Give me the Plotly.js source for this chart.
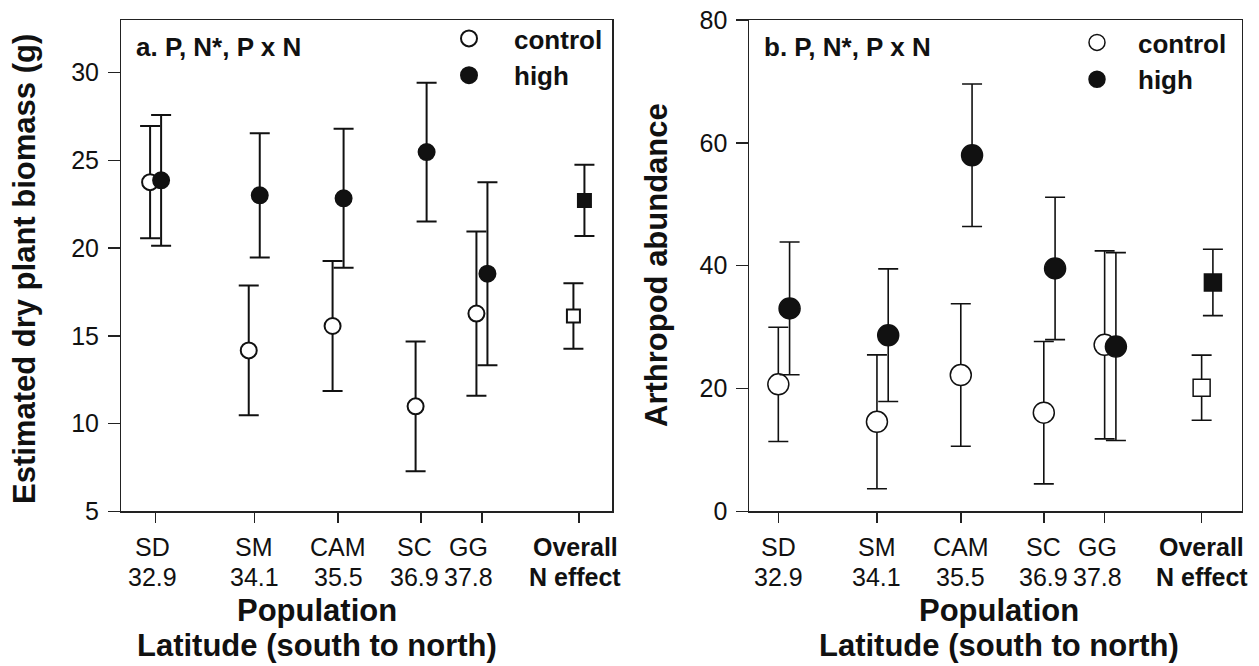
<!DOCTYPE html>
<html>
<head>
<meta charset="utf-8">
<script src="https://cdn.plot.ly/plotly-3.0.1.min.js"></script>
<style>
  html, body { margin: 0; padding: 0; background: #fff; }
  #chart { width: 1259px; height: 666px; }
</style>
</head>
<body>
<div id="chart"></div>
<script>
// ---- data ----
const populations = ['SD', 'SM', 'CAM', 'SC', 'GG'];
const latitudes = ['32.9', '34.1', '35.5', '36.9', '37.8'];
const overallLabel = ['Overall', 'N effect'];
// x positions of the groups along the latitude axis (SD..GG, then Overall)
const groupPos = [0, 1.2, 2.22, 3.23, 3.97, 5.15];

// panel a: estimated dry plant biomass (g)
const biomassControl = [23.76, 14.17, 15.56, 10.98, 16.27];
const biomassControlErr = [3.2, 3.7, 3.7, 3.7, 4.68];
const biomassHigh = [23.86, 23.01, 22.84, 25.47, 18.54];
const biomassHighErr = [3.73, 3.54, 3.96, 3.96, 5.22];
const biomassOverallControl = [16.13];
const biomassOverallControlErr = [1.87];
const biomassOverallHigh = [22.72];
const biomassOverallHighErr = [2.03];

// panel b: arthropod abundance
const arthControl = [20.67, 14.57, 22.19, 16.06, 27.1];
const arthControlErr = [9.3, 10.9, 11.6, 11.6, 15.3];
const arthHigh = [33.04, 28.67, 57.98, 39.55, 26.82];
const arthHighErr = [10.8, 10.8, 11.6, 11.6, 15.3];
const arthOverallControl = [20.13];
const arthOverallControlErr = [5.3];
const arthOverallHigh = [37.27];
const arthOverallHighErr = [5.4];

const yTicksA = [5, 10, 15, 20, 25, 30];
const yTicksB = [0, 20, 40, 60, 80];

// ---- styling / layout ----
const W = 1259, H = 666;
const FONT = 'Liberation Sans, Arial, Helvetica, sans-serif';
const NARROW = 'Liberation Sans Narrow, Arial Narrow, Liberation Sans, Arial, sans-serif';
const INK = '#111';
const AX = '#222';
const px = v => v / W;
const py = v => 1 - v / H;

const popPos = groupPos.slice(0, 5);
const ovPos = groupPos[5];
const shift = (arr, d) => arr.map(v => v + d);

function series(xa, ya, x, y, err, filled, symbol, size, lw, ew, name, legend, showlegend) {
  return {
    type: 'scatter', mode: 'markers', xaxis: xa, yaxis: ya,
    x: x, y: y, name: name, legend: legend, showlegend: showlegend,
    marker: { symbol: symbol, size: size, color: filled ? INK : '#fff', line: { color: INK, width: lw } },
    error_y: { type: 'data', array: err, visible: true, color: INK, thickness: ew, width: 10 },
    hoverinfo: 'skip'
  };
}

const offA = [-0.068, 0.066];
const offB = [0, 0.137];

const traces = [
  series('x', 'y', shift(popPos, offA[0]), biomassControl, biomassControlErr, false, 'circle', 16, 2, 2, 'control', 'legend', true),
  series('x', 'y', shift(popPos, offA[1]), biomassHigh, biomassHighErr, true, 'circle', 16, 2, 2, 'high', 'legend', true),
  series('x', 'y', [ovPos + offA[0]], biomassOverallControl, biomassOverallControlErr, false, 'square', 13, 2, 2, 'control', 'legend', false),
  series('x', 'y', [ovPos + offA[1]], biomassOverallHigh, biomassOverallHighErr, true, 'square', 13, 2, 2, 'high', 'legend', false),
  series('x2', 'y2', shift(popPos, offB[0]), arthControl, arthControlErr, false, 'circle', 21, 1.5, 1.6, 'control', 'legend2', true),
  series('x2', 'y2', shift(popPos, offB[1]), arthHigh, arthHighErr, true, 'circle', 21, 1.5, 1.6, 'high', 'legend2', true),
  series('x2', 'y2', [ovPos + offB[0]], arthOverallControl, arthOverallControlErr, false, 'square', 17, 1.5, 1.6, 'control', 'legend2', false),
  series('x2', 'y2', [ovPos + offB[1]], arthOverallHigh, arthOverallHighErr, true, 'square', 17, 1.5, 1.6, 'high', 'legend2', false)
];

function xaxisDef(domain, range, anchor) {
  return {
    domain: domain, range: range, anchor: anchor,
    tickmode: 'array', tickvals: groupPos, showticklabels: false,
    ticks: 'outside', ticklen: 10, tickwidth: 1.5, tickcolor: AX,
    showline: true, linecolor: AX, linewidth: 1.5, mirror: true,
    showgrid: false, zeroline: false, fixedrange: true
  };
}
function yaxisDef(domain, range, ticks, anchor) {
  return {
    domain: domain, range: range, anchor: anchor,
    tickmode: 'array', tickvals: ticks, ticktext: ticks.map(String),
    ticks: 'outside', ticklen: 11.5, tickwidth: 1.5, tickcolor: AX,
    ticklabelstandoff: 4,
    tickfont: { family: FONT, size: 25, color: INK },
    showline: true, linecolor: AX, linewidth: 1.5, mirror: true,
    showgrid: false, zeroline: false, fixedrange: true
  };
}

const yDom = [py(511.3), py(20)];
const annotations = [];
// small horizontal nudges of crowded tick labels (pixels), as in the reference
function tickLabels(xref, nudges) {
  populations.forEach((p, i) => {
    annotations.push({ xref: xref, yref: 'paper', x: groupPos[i], y: py(547), text: p, showarrow: false,
      xanchor: 'center', yanchor: 'middle', xshift: nudges[i], font: { family: FONT, size: 25, color: INK } });
    annotations.push({ xref: xref, yref: 'paper', x: groupPos[i], y: py(577), text: latitudes[i], showarrow: false,
      xanchor: 'center', yanchor: 'middle', xshift: nudges[i], font: { family: FONT, size: 25, color: INK } });
  });
  annotations.push({ xref: xref, yref: 'paper', x: groupPos[5], y: py(547), text: overallLabel[0], showarrow: false,
    xanchor: 'center', yanchor: 'middle', xshift: nudges[5], font: { family: NARROW, size: 25, color: INK, weight: 'bold' } });
  annotations.push({ xref: xref, yref: 'paper', x: groupPos[5], y: py(577), text: overallLabel[1], showarrow: false,
    xanchor: 'center', yanchor: 'middle', xshift: nudges[5], font: { family: NARROW, size: 25, color: INK, weight: 'bold' } });
}
tickLabels('x', [-3, 0, 0, -7, -14, -4]);
tickLabels('x2', [0, 0, 0, 0, -7, 0]);

function addText(x, y, text, size, opts) {
  annotations.push(Object.assign({ xref: 'paper', yref: 'paper', x: px(x), y: py(y), text: text, showarrow: false,
    xanchor: 'center', yanchor: 'middle', font: { family: FONT, size: size, color: INK, weight: 'bold' } }, opts || {}));
}
// x titles
addText(317, 610, 'Population', 31);
addText(317, 645, 'Latitude (south to north)', 31);
addText(999, 610, 'Population', 31);
addText(999, 645, 'Latitude (south to north)', 31);
// y titles
addText(25, 269, 'Estimated dry plant biomass (g)', 31, { textangle: -90 });
addText(656, 265, 'Arthropod abundance', 31, { textangle: -90 });
// panel labels
addText(134, 47, 'a. P, N*, P x N', 26, { xanchor: 'left' });
addText(762, 47, 'b. P, N*, P x N', 26, { xanchor: 'left' });

const legendStyle = (x, y, iw) => ({
  x: px(x), y: py(y), xanchor: 'left', yanchor: 'top', orientation: 'v',
  bgcolor: 'rgba(0,0,0,0)', borderwidth: 0,
  font: { family: FONT, size: 26, color: INK, weight: 'bold' },
  itemwidth: iw, tracegroupgap: 0
});

const layout = {
  width: W, height: H,
  margin: { l: 0, r: 0, t: 0, b: 0, pad: 0 },
  paper_bgcolor: '#fff', plot_bgcolor: '#fff',
  showlegend: true,
  legend: legendStyle(424, 15, 80),
  legend2: legendStyle(1056, 19, 72),
  xaxis: xaxisDef([px(121), px(612.3)], [-0.422, 5.555], 'y'),
  yaxis: yaxisDef(yDom, [5, 33], yTicksA, 'x'),
  xaxis2: xaxisDef([px(749.3), px(1241.5)], [-0.353, 5.635], 'y2'),
  yaxis2: yaxisDef(yDom, [0, 80], yTicksB, 'x2'),
  annotations: annotations
};

Plotly.newPlot('chart', traces, layout, { staticPlot: true, displayModeBar: false });
</script>
</body>
</html>
